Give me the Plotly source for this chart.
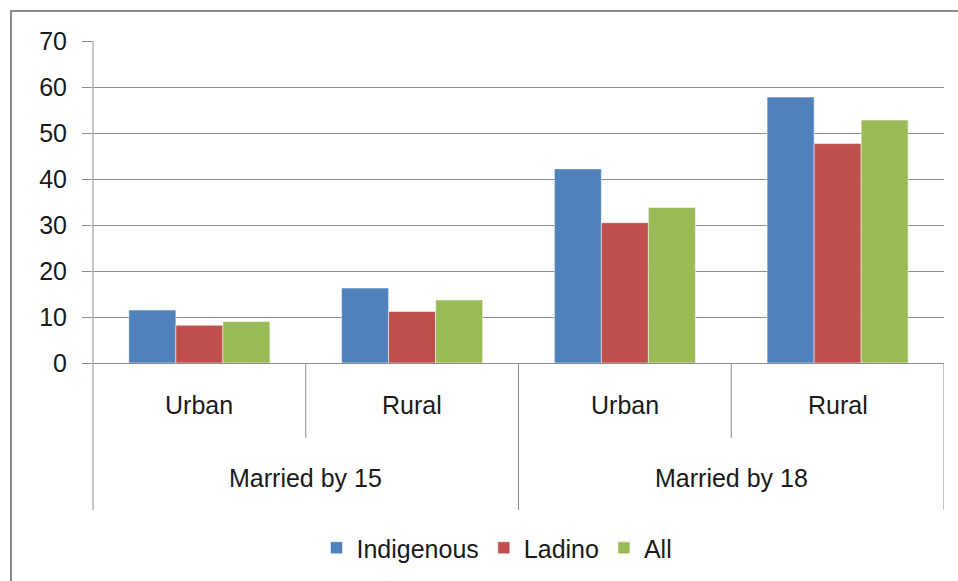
import plotly.graph_objects as go

groups = ["Married by 15", "Married by 15", "Married by 18", "Married by 18"]
areas = ["Urban", "Rural", "Urban", "Rural"]
series_names = ["Indigenous", "Ladino", "All"]
indigenous = [11.5, 16.3, 42.2, 57.8]
ladino = [8.2, 11.2, 30.5, 47.7]
all_vals = [9.0, 13.7, 33.8, 52.8]
colors = ["#4F81BD", "#C0504D", "#9BBB59"]
y_ticks = [0, 10, 20, 30, 40, 50, 60, 70]

cats = [f"{g}|{a}" for g, a in zip(groups, areas)]

W, H = 958, 581
PL, PR, PT, PB = 93, 944, 41, 363   # plot area in page pixels
L, T = PL, PT
R = W - PR
B = H - PB
pw, ph = PR - PL, PB - PT

def py(pix):
    return (PB - pix) / ph

def px(pix):
    return (pix - PL) / pw

FONT = "Liberation Sans, Arial, sans-serif"
FS = 25
TXT = "#1a1a1a"
GRID = "#8c8c8c"

fig = go.Figure()
for name, vals, col in zip(series_names, [indigenous, ladino, all_vals], colors):
    fig.add_trace(go.Bar(
        x=cats, y=vals, name=name,
        marker=dict(color=col, line=dict(color="rgba(255,255,255,0.5)", width=1)),
    ))

shapes = []
shapes.append(dict(type="line", xref="paper", yref="paper", x0=0, x1=0,
                   y0=1, y1=py(510), line=dict(color=GRID, width=1)))
n = len(cats)
for i in range(n):
    edge = i + 0.5
    is_group_edge = (i == n - 1) or (groups[i] != groups[i + 1])
    shapes.append(dict(type="line", xref="x", yref="paper", x0=edge, x1=edge,
                       y0=0, y1=py(510) if is_group_edge else py(438),
                       line=dict(color=GRID, width=1)))
shapes.append(dict(type="rect", xref="paper", yref="paper",
                   x0=px(11), x1=px(990), y0=py(11), y1=py(620),
                   line=dict(color="#8a8a8a", width=2), fillcolor="rgba(0,0,0,0)",
                   layer="below"))

annotations = []
for c, a in zip(cats, areas):
    annotations.append(dict(x=c, xref="x", y=py(405), yref="paper", text=a,
                            showarrow=False, font=dict(family=FONT, size=FS, color=TXT),
                            xanchor="center", yanchor="middle"))
seen = []
for g in groups:
    if g in seen:
        continue
    seen.append(g)
    idx = [j for j, gg in enumerate(groups) if gg == g]
    center = (idx[0] + idx[-1]) / 2
    annotations.append(dict(x=center, xref="x", y=py(478), yref="paper", text=g,
                            showarrow=False, font=dict(family=FONT, size=FS, color=TXT),
                            xanchor="center", yanchor="middle"))

fig.update_layout(
    width=W, height=H,
    margin=dict(l=L, r=R, t=T, b=B, autoexpand=False),
    paper_bgcolor="white", plot_bgcolor="white",
    barmode="group", bargap=0.337, bargroupgap=0,
    font=dict(family=FONT, size=FS, color=TXT),
    xaxis=dict(type="category", showticklabels=False, showgrid=False,
               showline=True, linecolor=GRID, linewidth=1, ticks="",
               range=[-0.5, n - 0.5], zeroline=False),
    yaxis=dict(range=[0, 70], tickvals=y_ticks, showgrid=True, gridcolor=GRID,
               gridwidth=1, ticks="outside", ticklen=10, tickcolor=GRID,
               showline=False, zeroline=False, ticklabelstandoff=10,
               tickfont=dict(family=FONT, size=FS, color=TXT)),
    legend=dict(orientation="h", x=px(497), xanchor="center", y=py(548),
                yanchor="middle", font=dict(family=FONT, size=FS, color=TXT),
                itemwidth=30, traceorder="normal"),
    shapes=shapes, annotations=annotations,
)

fig.write_html(
    "out.html",
    config={"displayModeBar": False},
    post_script="document.body.style.margin='0';document.body.style.padding='0';"
                "document.body.style.overflow='hidden';"
                "document.documentElement.style.overflow='hidden';",
)
